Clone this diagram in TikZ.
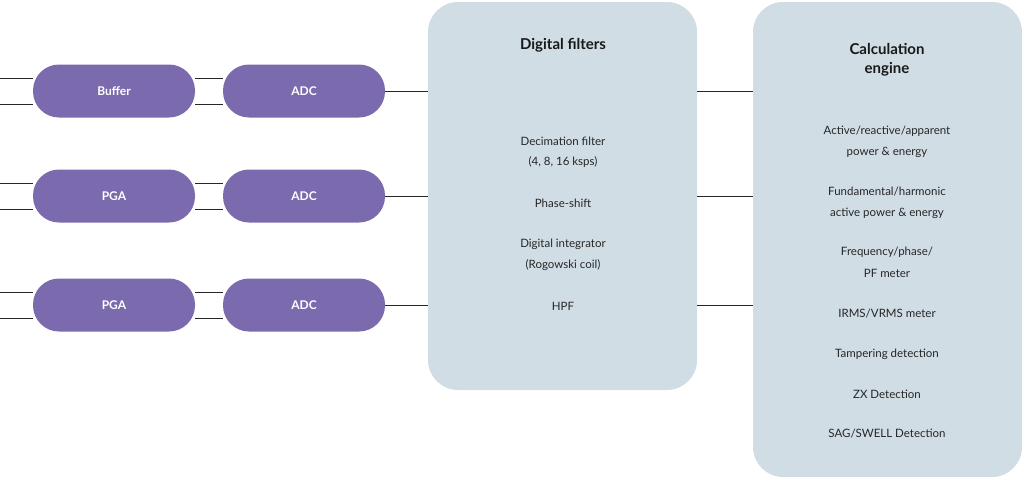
\documentclass[tikz,border=0pt]{standalone}
\usepackage{fontspec}
\setmainfont{Lato}
\begin{document}
\begin{tikzpicture}[x=1pt,y=-1pt,
  pill/.style={fill=pillc,rounded corners=26pt,text=white,font=\bfseries\fontsize{12}{14}\selectfont,minimum width=162pt,minimum height=53pt,inner sep=0pt},
  bigbox/.style={fill=boxc,rounded corners=30pt},
  wire/.style={draw=black!85,line width=0.9pt},
  txt/.style={font=\fontsize{11.5}{14}\selectfont,text=black!85,anchor=center},
  ttl/.style={font=\bfseries\fontsize{15}{19}\selectfont,text=black!90,align=center}]
\definecolor{pillc}{HTML}{7B6BAE}
\definecolor{boxc}{HTML}{D1DDE5}
\useasboundingbox (0,0) rectangle (1024,479);
% big boxes
\path[bigbox] (428,2) rectangle (697,390);
\path[bigbox] (753,2) rectangle (1022,477);
\coordinate (fl1) at (428,91); \coordinate (fl2) at (428,196); \coordinate (fl3) at (428,305);
\coordinate (fr1) at (697,91); \coordinate (fr2) at (697,196); \coordinate (fr3) at (697,305);
\coordinate (cl1) at (753,91); \coordinate (cl2) at (753,196); \coordinate (cl3) at (753,305);
% rows
\foreach \y/\n/\lab in {91/1/Buffer,196/2/PGA,305/3/PGA}{
  \coordinate (inA\n) at (0,\y-13); \coordinate (inB\n) at (0,\y+13);
  \node[pill] (b\n) at (114,\y) {\lab};
  \node[pill] (a\n) at (304,\y) {ADC};
  \draw[wire] (inA\n) -- (b\n.west |- inA\n);
  \draw[wire] (inB\n) -- (b\n.west |- inB\n);
  \draw[wire] (b\n.east |- inA\n) -- (a\n.west |- inA\n);
  \draw[wire] (b\n.east |- inB\n) -- (a\n.west |- inB\n);
  \draw[wire] (a\n.east) -- (fl\n);
  \draw[wire] (fr\n) -- (cl\n);
}
% filter texts
\node[ttl] (ft) at (563,45) {Digital filters};
\node[txt] (f1) at (563,141) {Decimation filter};
\node[txt] (f2) at (563,162) {(4, 8, 16 ksps)};
\node[txt] (f3) at (563,203) {Phase-shift};
\node[txt] (f4) at (563,244) {Digital integrator};
\node[txt] (f5) at (563,265) {(Rogowski coil)};
\node[txt] (f6) at (563,306) {HPF};
% calc texts
\node[ttl] (ct) at (887,60) {Calculation\\engine};
\node[txt] (c1) at (887,131) {Active/reactive/apparent};
\node[txt] (c2) at (887,152) {power \& energy};
\node[txt] (c3) at (887,192) {Fundamental/harmonic};
\node[txt] (c4) at (887,213) {active power \& energy};
\node[txt] (c5) at (887,252) {Frequency/phase/};
\node[txt] (c6) at (887,273) {PF meter};
\node[txt] (c7) at (887,314) {IRMS/VRMS meter};
\node[txt] (c8) at (887,354) {Tampering detection};
\node[txt] (c9) at (887,394) {ZX Detection};
\node[txt] (c10) at (887,434) {SAG/SWELL Detection};
\end{tikzpicture}
\end{document}
